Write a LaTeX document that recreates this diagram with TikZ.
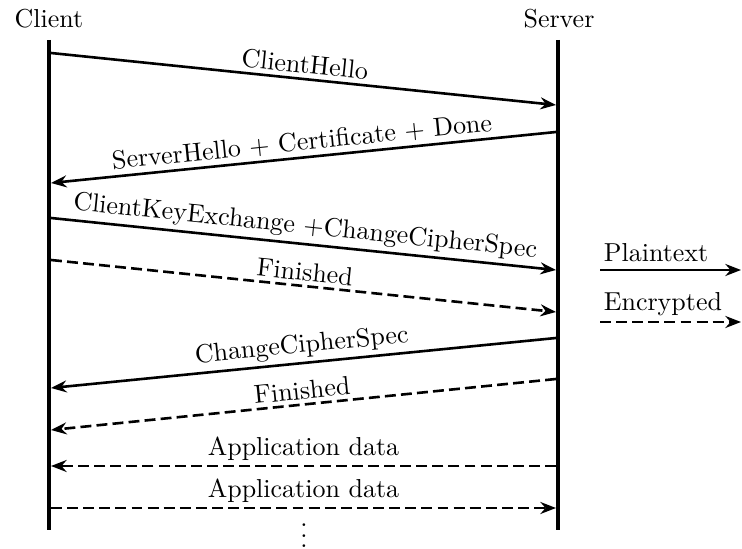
\documentclass[tikz,border=0pt]{standalone}
\usepackage{amsmath}
\usepackage{tikz}
\usetikzlibrary{arrows.meta}

\begin{document}
\begin{tikzpicture}[x=0.385pt,y=-0.385pt,
  lifeline/.style={line width=1.8pt},
  msg/.style={line width=1pt,-{Stealth[length=6pt,width=4.6pt]}},
  enc/.style={msg,dash pattern=on 4.2pt off 2pt},
  lbl/.style={midway,sloped,above,inner sep=1.5pt}]
\useasboundingbox (0,0) rectangle (742,549);

% Text Node
\node (client) at (49,19) {Client};
% Text Node
\node (server) at (559,19) {Server};

%Straight Lines: lifelines
\coordinate (ctop) at (49,40);
\coordinate (cbot) at (49,530);
\coordinate (stop) at (558,40);
\coordinate (sbot) at (558,530);
\draw [lifeline] (ctop) -- (cbot);
\draw [lifeline] (stop) -- (sbot);

%Straight Lines: handshake
\coordinate (c1) at (51,53);   \coordinate (s1) at (556,105);
\coordinate (s2) at (556,132); \coordinate (c2) at (51,183);
\coordinate (c3) at (51,218);  \coordinate (s3) at (556,270);
\coordinate (c4) at (51,260);  \coordinate (s4) at (556,312);
\coordinate (s5) at (556,338); \coordinate (c5) at (51,388);
\coordinate (s6) at (556,379); \coordinate (c6) at (51,430);
\draw [msg] (c1) -- (s1) node [lbl] (hello) {ClientHello};
\draw [msg] (s2) -- (c2) node [lbl] (shello) {ServerHello + Certificate + Done};
\draw [msg] (c3) -- (s3) node [lbl] (keyex) {ClientKeyExchange +ChangeCipherSpec};
\draw [enc] (c4) -- (s4) node [lbl] (cfin) {Finished};
\draw [msg] (s5) -- (c5) node [lbl] (sccs) {ChangeCipherSpec};
\draw [enc] (s6) -- (c6) node [lbl] (sfin) {Finished};

%Straight Lines: application data
\coordinate (s7) at (556,466); \coordinate (c7) at (51,466);
\coordinate (c8) at (51,508);  \coordinate (s8) at (556,508);
\draw [enc] (s7) -- (c7) node [lbl] (sdata) {Application data};
\draw [enc] (c8) -- (s8) node [lbl] (cdata) {Application data};

% Text Node
\node [anchor=south, inner sep=0pt] (more) at (304,548) {$\vdots$};

%Straight Lines: legend
\coordinate (pl0) at (600,270); \coordinate (pl1) at (741,270);
\coordinate (en0) at (600,322); \coordinate (en1) at (741,322);
\draw [msg] (pl0) -- (pl1) node [pos=0, anchor=south west, inner xsep=1pt, inner ysep=2.5pt] (plain) {Plaintext};
\draw [enc] (en0) -- (en1) node [pos=0, anchor=south west, inner xsep=1pt, inner ysep=2pt] (crypt) {Encrypted};

\end{tikzpicture}
\end{document}
